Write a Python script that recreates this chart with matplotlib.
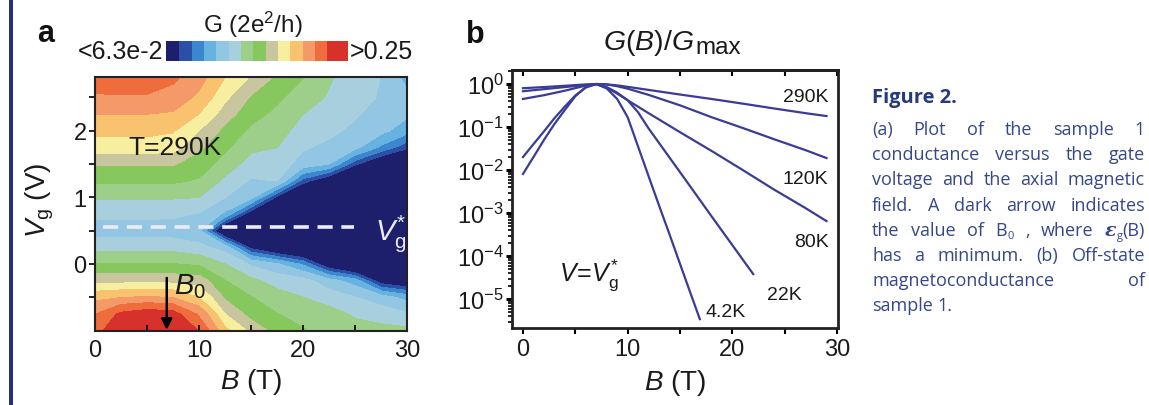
import numpy as np
import matplotlib
matplotlib.use("Agg")
import matplotlib.pyplot as plt
from matplotlib.ticker import MultipleLocator, FixedLocator, LogLocator, NullFormatter

plt.rcParams['font.family'] = ['Liberation Sans', 'DejaVu Sans']
plt.rcParams['mathtext.fontset'] = 'custom'
plt.rcParams['mathtext.rm'] = 'Liberation Sans'
plt.rcParams['mathtext.it'] = 'Liberation Sans:italic'
plt.rcParams['mathtext.bf'] = 'Liberation Sans:bold'

# ---------------- panel a: G(B, Vg) at T = 290 K, units of 2e^2/h ----------------
B_grid = [0, 2.5, 5, 7.5, 10, 12.5, 15, 17.5, 20, 22.5, 25, 27.5, 30]
Vg_grid = [-1.0, -0.75, -0.5, -0.25, 0.0, 0.25, 0.5, 0.75, 1.0, 1.25, 1.5, 1.75,
           2.0, 2.25, 2.5, 2.8]
# one row per gate voltage (bottom to top), one column per field value
G_map = [
    [0.239, 0.274, 0.287, 0.280, 0.249, 0.183, 0.153, 0.134, 0.127, 0.120, 0.117, 0.116, 0.115],
    [0.222, 0.256, 0.268, 0.262, 0.218, 0.158, 0.134, 0.126, 0.119, 0.117, 0.110, 0.106, 0.101],
    [0.192, 0.198, 0.201, 0.198, 0.177, 0.138, 0.126, 0.117, 0.112, 0.106, 0.100, 0.094, 0.085],
    [0.151, 0.151, 0.153, 0.151, 0.149, 0.126, 0.115, 0.107, 0.104, 0.093, 0.084, 0.056, 0.050],
    [0.126, 0.126, 0.126, 0.126, 0.123, 0.112, 0.098, 0.090, 0.0775, 0.053, 0.040, 0.040, 0.036],
    [0.107, 0.107, 0.107, 0.107, 0.103, 0.095, 0.060, 0.047, 0.040, 0.040, 0.036, 0.036, 0.036],
    [0.095, 0.095, 0.095, 0.094, 0.091, 0.045, 0.040, 0.036, 0.036, 0.036, 0.036, 0.036, 0.036],
    [0.102, 0.102, 0.102, 0.102, 0.099, 0.087, 0.056, 0.040, 0.036, 0.036, 0.036, 0.036, 0.036],
    [0.113, 0.113, 0.113, 0.113, 0.112, 0.100, 0.092, 0.061, 0.040, 0.036, 0.036, 0.036, 0.036],
    [0.128, 0.128, 0.128, 0.128, 0.124, 0.109, 0.0986, 0.100, 0.0675, 0.053, 0.036, 0.036, 0.036],
    [0.142, 0.142, 0.142, 0.142, 0.133, 0.120, 0.106, 0.106, 0.095, 0.089, 0.065, 0.050, 0.040],
    [0.167, 0.167, 0.167, 0.165, 0.144, 0.128, 0.115, 0.112, 0.101, 0.0975, 0.092, 0.0775, 0.065],
    [0.183, 0.183, 0.183, 0.179, 0.158, 0.136, 0.123, 0.117, 0.107, 0.102, 0.0975, 0.092, 0.083],
    [0.199, 0.199, 0.199, 0.196, 0.177, 0.149, 0.130, 0.1226, 0.112, 0.107, 0.101, 0.0953, 0.091],
    [0.220, 0.220, 0.220, 0.213, 0.194, 0.162, 0.139, 0.128, 0.1185, 0.1106, 0.1044, 0.0986, 0.092],
    [0.236, 0.239, 0.239, 0.228, 0.208, 0.177, 0.156, 0.1376, 0.126, 0.1132, 0.1069, 0.0995, 0.085],
]
G_low, G_high = 0.063, 0.25
Vg_star = 0.55      # gate voltage of the off state
B0 = 6.9            # field of the gap minimum

map_colors = ['#1d1f6d',                        # below 6.3e-2
              '#2a4fa5', '#3b86cc', '#66b2e0', '#92c6e2', '#a7cfde',
              '#9dcf8a', '#86c75e', '#c9c59f', '#f7ef9f', '#f8c26e',
              '#f39a68', '#ef6c3c',
              '#d6322b']                        # above 0.25

# ---------------- panel b: normalised magnetoconductance at Vg* ----------------
B_290K = [0, 2, 4, 6, 7, 8, 9, 10, 12, 15, 18, 21, 24, 27, 29]
G_290K = [0.80, 0.85, 0.91, 0.98, 1.0, 0.98, 0.93, 0.86, 0.73, 0.57, 0.45, 0.35, 0.27, 0.21, 0.18]
B_120K = [0, 2, 4, 6, 7, 8, 9, 10, 12, 15, 18, 21, 24, 27, 29]
G_120K = [0.68, 0.76, 0.85, 0.95, 1.0, 0.98, 0.89, 0.78, 0.56, 0.32, 0.17, 0.095, 0.052, 0.029, 0.019]
B_80K = [0, 2, 4, 6, 7, 8, 9, 10, 12, 15, 18, 21, 24, 27, 29]
G_80K = [0.45, 0.55, 0.70, 0.92, 1.0, 0.83, 0.60, 0.42, 0.21, 0.076, 0.028, 0.010, 0.0035, 0.0013, 0.00065]
B_22K = [0, 1, 2, 3, 4, 5, 6, 7, 8, 9, 10, 11, 12, 14, 16, 18, 20, 22]
G_22K = [0.020, 0.040, 0.079, 0.16, 0.30, 0.54, 0.83, 1.0, 0.85, 0.63, 0.42, 0.22, 0.093,
         0.0195, 0.0041, 0.00085, 0.00018, 0.000038]
B_4K = [0, 1, 2, 3, 4, 5, 6, 7, 8, 9, 10, 11, 12, 13, 14, 15, 16, 16.9]
G_4K = [0.0081, 0.020, 0.050, 0.117, 0.25, 0.52, 0.85, 1.0, 0.79, 0.45, 0.17, 0.035, 0.0072,
        0.0015, 0.00032, 0.000066, 0.0000138, 0.0000034]

curve_B = [B_290K, B_120K, B_80K, B_22K, B_4K]
curve_G = [G_290K, G_120K, G_80K, G_22K, G_4K]
curve_names = ['290K', '120K', '80K', '22K', '4.2K']
name_pos = [(29.2, 0.52, 'right'), (29.2, 6.2e-3, 'right'), (29.2, 2.2e-4, 'right'),
            (26.6, 1.3e-5, 'right'), (17.4, 5.0e-6, 'left')]

caption_title = 'Figure 2.'
caption_lines = [
    '(a) Plot of the sample 1',
    'conductance versus the gate',
    'voltage and the axial magnetic',
    'field. A dark arrow indicates',
    'the value of B_0 , where ε_g(B)',
    'has a minimum. (b) Off-state',
    'magnetoconductance of',
    'sample 1.',
]

# ---------------- figure ----------------
W, H = 1149, 406
fig = plt.figure(figsize=(W / 100, H / 100), dpi=100)
fig.patch.set_facecolor('white')

ov = fig.add_axes([0, 0, 1, 1])
ov.set_xlim(0, W)
ov.set_ylim(H, 0)
ov.set_axis_off()
ov.axvspan(9, 13, color='#24307a', lw=0)


def frac(l, t, r, b):
    return [l / W, 1 - b / H, (r - l) / W, (b - t) / H]


text_col = '#1a1a1a'

# ---- panel a
ax_a = fig.add_axes(frac(95, 78.4, 407, 331.6))
cs = ax_a.contourf(B_grid, Vg_grid, G_map,
                   levels=np.geomspace(G_low, G_high, 13),
                   colors=map_colors, extend='both')
ax_a.set_xlim(0, 30)
ax_a.set_ylim(-1.0, 2.8)
ax_a.xaxis.set_major_locator(MultipleLocator(10))
ax_a.xaxis.set_minor_locator(MultipleLocator(5))
ax_a.yaxis.set_major_locator(FixedLocator([0, 1, 2]))
ax_a.yaxis.set_minor_locator(FixedLocator([-0.5, 0.5, 1.5, 2.5]))
ax_a.tick_params(axis='x', which='both', direction='in', length=4, width=1.2,
                 labelsize=17, pad=6, labelcolor=text_col)
ax_a.tick_params(axis='y', which='both', direction='out', length=4, width=1.2,
                 labelsize=17, pad=2, labelcolor=text_col)
for s in ax_a.spines.values():
    s.set_linewidth(1.5)
    s.set_color('#222222')
ax_a.set_xlabel('$B$ (T)', fontsize=20, color=text_col)
ax_a.xaxis.set_label_coords(0.5, -0.14)
ax_a.set_ylabel('$V_\\mathrm{g}$ (V)', fontsize=20, color=text_col, va='center')
ax_a.yaxis.set_label_coords(-0.176, 0.52)

ax_a.axhline(Vg_star, xmin=0.027, xmax=0.83, color='#ecebf7', lw=2.6,
             dashes=(4.2, 2.4))
ax_a.text(26.9, Vg_star - 0.08, '$V_\\mathrm{g}^{*}$', fontsize=21,
          color='#ecebf7', ha='left', va='center')
ax_a.text(3.2, 1.75, 'T=290K', fontsize=19, color=text_col, ha='left', va='center')
ax_a.annotate('', xy=(B0, -0.99), xytext=(B0, -0.21),
              arrowprops=dict(arrowstyle='-|>', color='black', lw=1.8,
                              mutation_scale=16, shrinkA=0, shrinkB=0))
ax_a.text(7.6, -0.32, '$B_\\mathrm{0}$', fontsize=21, color=text_col,
          ha='left', va='center')

# colour bar of panel a
cax = fig.add_axes(frac(166, 42, 348, 62))
cb = fig.colorbar(cs, cax=cax, orientation='horizontal', extendrect=True,
                  extendfrac=(0.09, 0.14))
cb.set_ticks([])
cb.outline.set_linewidth(0)
ov.text(253, 25, 'G (2e$^2$/h)', fontsize=17.5, ha='center', va='center', color=text_col)
ov.text(163, 52, '<6.3e-2', fontsize=18, ha='right', va='center', color=text_col)
ov.text(350, 52, '>0.25', fontsize=18, ha='left', va='center', color=text_col)
ov.text(46, 34, 'a', fontsize=22, fontweight='bold', ha='center', va='center', color='#111111')

# ---- panel b
ax_b = fig.add_axes(frac(512, 71, 838, 329))
line_col = '#3a3c96'
for xb, yg in zip(curve_B, curve_G):
    ax_b.plot(xb, yg, color=line_col, lw=1.6)
ax_b.set_yscale('log')
ax_b.set_xlim(-1.05, 30.1)
ax_b.set_ylim(2.12e-6, 2.12)
ax_b.set_yticks([1, 1e-1, 1e-2, 1e-3, 1e-4, 1e-5])
ax_b.yaxis.set_minor_locator(LogLocator(base=10, subs=np.arange(2, 10), numticks=20))
ax_b.yaxis.set_minor_formatter(NullFormatter())
ax_b.xaxis.set_major_locator(MultipleLocator(10))
ax_b.xaxis.set_minor_locator(MultipleLocator(5))
ax_b.tick_params(axis='y', which='major', direction='out', length=4, width=2.2,
                 labelsize=17, pad=2, labelcolor=text_col)
ax_b.tick_params(axis='y', which='minor', direction='out', length=3, width=1.2)
ax_b.tick_params(axis='x', which='both', direction='out', length=4, width=1.5,
                 labelsize=17, pad=3, labelcolor=text_col)
top = ax_b.secondary_xaxis('top')
top.xaxis.set_major_locator(MultipleLocator(5))
top.tick_params(axis='x', direction='in', length=4, width=1.5, labeltop=False)
top.spines['top'].set_linewidth(2)
for s in ax_b.spines.values():
    s.set_linewidth(2)
    s.set_color('#222222')
ax_b.set_xlabel('$B$ (T)', fontsize=20, color=text_col)
ax_b.xaxis.set_label_coords(0.5, -0.15)

label_font = ['Liberation Sans Narrow', 'Liberation Sans']
for name, (bx, gy, ha) in zip(curve_names, name_pos):
    ax_b.text(bx, gy, name, fontsize=14, family=label_font, color=text_col,
              ha=ha, va='center')
ax_b.text(3.4, 3.8e-5, '$V\\!=\\!V_\\mathrm{g}^{*}$', fontsize=18, color=text_col,
          ha='left', va='center')
ov.text(475, 35, 'b', fontsize=22, fontweight='bold', ha='center', va='center', color='#111111')

renderer = fig.canvas.get_renderer()

# title of panel b: G(B)/G with a large "max" subscript
t_main = ov.text(603, 50, '$G(B)/G$', fontsize=20.5, ha='left', va='baseline', color=text_col)
w_main = t_main.get_window_extent(renderer).width
ov.text(603 + w_main + 1, 54, 'max', fontsize=17.5, ha='left', va='baseline', color=text_col)

# ---- caption, justified between two margins
cap_family = ['Open Sans', 'DejaVu Sans']
cap_size = 13
cap_color = '#36478a'
cap_left, cap_right = 872, 1145
ov.text(cap_left, 103, caption_title, fontsize=14.5, fontweight='bold',
        family=cap_family, color='#263a7d', ha='left', va='baseline')


def word_segments(word):
    segs = []
    i = 0
    buf = ''
    while i < len(word):
        ch = word[i]
        if ch == '_' and i + 1 < len(word):
            if buf:
                segs.append((buf, 'n'))
                buf = ''
            segs.append((word[i + 1], 'sub'))
            i += 2
            continue
        if ch == 'ε':
            if buf:
                segs.append((buf, 'n'))
                buf = ''
            segs.append((ch, 'eps'))
            i += 1
            continue
        buf += ch
        i += 1
    if buf:
        segs.append((buf, 'n'))
    return segs


def place_word(x, y, segs, keep=True):
    adv = 0.0
    arts = []
    for s, kind in segs:
        props = dict(family=cap_family, fontsize=cap_size, color=cap_color)
        dy = 0
        if kind == 'sub':
            props['fontsize'] = cap_size * 0.62
            dy = 3.5
        elif kind == 'eps':
            props.update(family=['DejaVu Serif'], fontweight='bold', fontstyle='italic',
                         fontsize=cap_size * 1.05)
        t = ov.text(x + adv, y + dy, s, ha='left', va='baseline', **props)
        adv += t.get_window_extent(renderer).width
        arts.append(t)
    if not keep:
        for t in arts:
            t.remove()
    return adv


base0, step = 135, 25.2
for i, line in enumerate(caption_lines):
    y = base0 + i * step
    words = [word_segments(w) for w in line.split(' ')]
    widths = [place_word(0, -100, w, keep=False) for w in words]
    last = (i == len(caption_lines) - 1)
    if last or len(words) == 1:
        gap = 4.5
    else:
        gap = (cap_right - cap_left - sum(widths)) / (len(words) - 1)
        gap = max(gap, 3.5)
    x = cap_left
    for w, wd in zip(words, widths):
        place_word(x, y, w)
        x += wd + gap

fig.savefig('out.png', dpi=100, facecolor='white')
